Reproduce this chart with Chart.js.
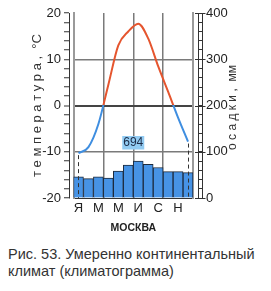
<!DOCTYPE html>
<html><head><meta charset="utf-8">
<script src="https://cdn.jsdelivr.net/npm/chart.js@4.4.1/dist/chart.umd.min.js"></script>
<style>
html,body{margin:0;padding:0;background:#fff;width:271px;height:291px;overflow:hidden}
#wrap{position:absolute;left:0;top:0;width:271px;height:240px}
#cap{position:absolute;left:8px;top:246px;font:14.5px "Liberation Sans",Arial,sans-serif;line-height:17px;color:#333;white-space:nowrap}
</style></head><body>
<div id="wrap"><canvas id="c" width="271" height="240"></canvas></div>
<div id="cap">Рис. 53. Умеренно континентальный<br>климат (климатограмма)</div>
<script>
const months = ['Я','Ф','М','А','М','И','И','А','С','О','Н','Д'];
const temperature = [-10.3, -9, -4, 4.5, 13, 16, 17.7, 14.5, 8.5, 3, -2.6, -7.8];
const precipitation = [46, 42, 46, 43, 58, 71, 80, 73, 66, 57, 57, 55];
const tempTicks = [-20, -10, 0, 10, 20];
const precipTicks = [0, 100, 200, 300, 400];
const city = 'МОСКВА';
const leftTitle = 'т е м п е р а т у р а ,  °С';
const rightTitle = 'о с а д к и ,  мм';

const FONT = '"Liberation Sans Narrow","Arial Narrow","Liberation Sans",Arial,sans-serif';
const RED = '#e5552e', BLUE = '#3f8ee0', BAR = '#4793e5';
const total = precipitation.reduce((a, b) => a + b, 0);

function splitColor(c) {
  const ch = c.chart, ca = ch.chartArea;
  if (!ca) return RED;
  const p0 = ch.scales.y.getPixelForValue(0);
  const g = ch.ctx.createLinearGradient(0, ca.top, 0, ca.bottom);
  const f = Math.min(1, Math.max(0, (p0 - ca.top) / (ca.bottom - ca.top)));
  g.addColorStop(0, RED); g.addColorStop(f, RED); g.addColorStop(f, BLUE); g.addColorStop(1, BLUE);
  return g;
}

const extras = {
  id: 'extras',
  afterDatasetsDraw(chart) {
    const {ctx, chartArea: ca, scales} = chart;
    const meta = chart.getDatasetMeta(1);
    const pts = [meta.data[0], meta.data[meta.data.length - 1]];
    ctx.save();
    ctx.strokeStyle = '#333'; ctx.lineWidth = 1; ctx.setLineDash([4, 3]);
    pts.forEach(p => { ctx.beginPath(); ctx.moveTo(Math.round(p.x) + 0.5, p.y + 2); ctx.lineTo(Math.round(p.x) + 0.5, ca.bottom); ctx.stroke(); });
    ctx.setLineDash([]);
    // annual total label
    const x = (scales.x.getPixelForValue(5) + scales.x.getPixelForValue(6)) / 2;
    const y = scales.y1.getPixelForValue(120);
    ctx.fillStyle = '#92cbf2';
    ctx.fillRect(x - 11, y - 6.5, 22, 13.5);
    ctx.fillStyle = '#1c2c48';
    ctx.font = '12px ' + FONT;
    ctx.textAlign = 'center'; ctx.textBaseline = 'middle';
    ctx.fillText(String(total), x, y + 0.5);
    ctx.restore();
  },
  afterDraw(chart) {
    const {ctx, chartArea: ca, scales} = chart;
    const s = scales.y1;
    ctx.save();
    ctx.strokeStyle = '#333'; ctx.lineWidth = 1;
    const rx = s.left + 4.5;
    ctx.beginPath(); ctx.moveTo(rx, ca.top); ctx.lineTo(rx, ca.bottom); ctx.stroke();
    s.ticks.forEach(t => {
      if (!precipTicks.includes(t.value)) return;
      const py = Math.round(s.getPixelForValue(t.value)) + 0.5;
      ctx.beginPath(); ctx.moveTo(s.left - 3, py); ctx.lineTo(rx + 3, py); ctx.stroke();
    });
    ctx.fillStyle = '#333';
    ctx.font = '12px "Liberation Sans",Arial,sans-serif';
    ctx.textAlign = 'center'; ctx.textBaseline = 'middle';
    ctx.translate(s.left + 35, (ca.top + ca.bottom) / 2 + 2);
    ctx.rotate(-Math.PI / 2);
    ctx.fillText(rightTitle, 0, 0);
    ctx.restore();
  }
};

new Chart(document.getElementById('c'), {
  type: 'bar',
  data: {
    labels: months,
    datasets: [
      { type: 'bar', data: precipitation, yAxisID: 'y1', order: 1,
        backgroundColor: BAR, borderColor: '#1d2a3c', borderWidth: 1,
        barPercentage: 1, categoryPercentage: 1 },
      { type: 'line', data: temperature, yAxisID: 'y', order: 0,
        borderColor: splitColor, borderWidth: 2, pointRadius: 0,
        cubicInterpolationMode: 'monotone', fill: false }
    ]
  },
  options: {
    responsive: false, animation: false, devicePixelRatio: 1,
    layout: { padding: { top: 13, left: 0, right: 0, bottom: 0 } },
    plugins: { legend: { display: false }, tooltip: { enabled: false } },
    scales: {
      x: {
        afterFit(s) { s.height = 42; },
        grid: { offset: true, drawTicks: false,
          color: c => (c.index > 0 && c.index < 12 && c.index % 3 === 0) ? '#7a7a7a' : 'rgba(0,0,0,0)',
          lineWidth: 1.5 },
        border: { display: true, color: '#333', width: 1 },
        ticks: { autoSkip: false, maxRotation: 0, padding: 3, color: '#222',
          font: { family: FONT, size: 13 },
          callback: (v, i) => (i % 2 === 0 ? months[i] : '') },
        title: { display: true, text: city, color: '#222',
          font: { family: FONT, size: 10.5, weight: 'bold' }, padding: { top: 0, bottom: 6 } }
      },
      y: {
        type: 'linear', position: 'left', weight: 1, min: -20, max: 20,
        afterFit(s) { s.width = 69; },
        ticks: { stepSize: 2, autoSkip: false, padding: 3, color: '#222',
          font: { family: FONT, size: 13 },
          callback: v => (tempTicks.includes(v) ? String(v) : '') },
        grid: { drawOnChartArea: true, drawTicks: true, tickLength: 5, tickColor: '#333', tickWidth: 1,
          color: c => (c.tick && c.tick.value === 0) ? '#444' : (c.tick && Math.abs(c.tick.value) === 10 ? '#7a7a7a' : 'rgba(0,0,0,0)'),
          lineWidth: c => (c.tick && c.tick.value === 0) ? 2 : 1.5 },
        border: { display: true, color: '#333', width: 1 },
        title: { display: true, text: leftTitle, color: '#333',
          font: { family: '"Liberation Sans",Arial,sans-serif', size: 13 }, padding: { top: 30, bottom: 0 } }
      },
      sL: {
        type: 'linear', position: 'left', weight: 0, min: 0, max: 1,
        afterFit(s) { s.width = 4.5; },
        ticks: { display: false }, grid: { display: false, drawTicks: false },
        border: { display: true, color: '#9a9a9a', width: 2 }
      },
      sR: {
        type: 'linear', position: 'right', weight: 0, min: 0, max: 1,
        afterFit(s) { s.width = 5; },
        ticks: { display: false }, grid: { display: false, drawTicks: false },
        border: { display: true, color: '#9a9a9a', width: 2 }
      },
      y1: {
        type: 'linear', position: 'right', weight: 1, min: 0, max: 400,
        afterFit(s) { s.width = 73; },
        ticks: { stepSize: 20, autoSkip: false, padding: 3.5, color: '#222',
          font: { family: FONT, size: 13 },
          callback: v => (precipTicks.includes(v) ? String(v) : '') },
        grid: { drawOnChartArea: false, drawTicks: true, tickLength: 4.5, tickColor: '#333', tickWidth: 1 },
        border: { display: true, color: '#333', width: 1 }
      }
    }
  },
  plugins: [extras]
});
</script>
</body></html>
